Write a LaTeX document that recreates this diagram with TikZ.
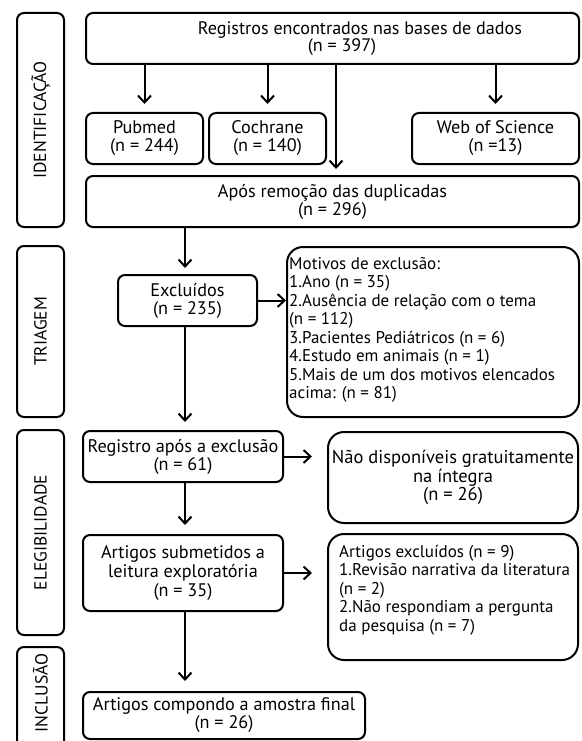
\documentclass[tikz,border=0pt]{standalone}
\usepackage{fontspec}
\setmainfont{PT Sans}
\usetikzlibrary{arrows.meta,calc}
\begin{document}
\begin{tikzpicture}[x=1pt,y=-1pt,
  box/.style={draw, line width=2pt, rounded corners=7pt, inner sep=0pt,
    align=center, font=\fontsize{18.2}{18}\selectfont},
  bigbox/.style={box, rounded corners=16pt},
  sidebox/.style={box, minimum width=47pt},
  sidelabel/.style={rotate=90, inner sep=0pt, font=\fontsize{17.5}{18}\selectfont},
  txt/.style={inner sep=0pt, align=left, font=\fontsize{17}{18.5}\selectfont},
  arr/.style={-{Straight Barb[length=7pt,width=13pt,line width=2pt]}, line width=2pt},
]
\useasboundingbox (0,0) rectangle (581,741);
\begin{scope}
\clip (0,0) rectangle (581,741);
% side boxes
\node[sidebox, minimum height=214pt] (ident) at (40.5,120) {};
\node[sidebox, minimum height=171pt] (triag) at (40.5,331.5) {};
\node[sidebox, minimum height=205pt] (eleg) at (40.5,532.5) {};
\node[sidebox, minimum height=133pt] (incl) at (40.5,713.5) {};
\end{scope}
\node[sidelabel] (identlab) at (ident.center) {IDENTIFICAÇÃO};
\node[sidelabel] (triaglab) at (triag.center) {TRIAGEM};
\node[sidelabel] (eleglab) at (eleg.center) {ELEGIBILIDADE};
\node[sidelabel] (incllab) at (40.5,693) {INCLUSÃO};

% main boxes
\node[box, minimum width=493pt, minimum height=51pt, font=\fontsize{18.1}{15}\selectfont] (reg) at (332.5,38.5)
  {\kern55pt Registros encontrados nas bases de dados\\\kern19pt (n = 397)};
\node[box, minimum width=117pt, minimum height=51pt] (pub) at (144.5,138.5) {Pubmed\\(n = 244)};
\node[box, minimum width=117pt, minimum height=51pt] (coch) at (267.5,138.5) {Cochrane\\(n = 140)};
\node[box, minimum width=167pt, minimum height=51pt] (wos) at (495.5,138.5) {Web of Science\\(n =13)};
\node[box, minimum width=493pt, minimum height=51pt] (apos) at (332.5,201.5) {Após remoção das duplicadas\\(n = 296)};
\node[box, minimum width=139pt, minimum height=51pt] (excl) at (187.5,300.5) {Excluídos\\(n = 235)};
\node[bigbox, minimum width=292pt, minimum height=170pt] (motivos) at (433,332) {};
\node[txt, anchor=west] (motivostxt) at ([xshift=3pt,yshift=2pt]motivos.west)
  {Motivos de exclusão:\\
   1.Ano (n = 35)\\
   2.Ausência de relação com o tema\\
   (n = 112)\\
   3.Pacientes Pediátricos (n = 6)\\
   4.Estudo em animais (n = 1)\\
   5.Mais de um dos motivos elencados\\
   acima: (n = 81)};
\node[box, minimum width=200pt, minimum height=51pt] (registro) at (183,456.5) {Registro após a exclusão\\(n = 61)};
\node[bigbox, minimum width=250pt, minimum height=91pt, font=\fontsize{18.5}{13.5}\selectfont] (nao) at (453,477.5)
  {Não disponíveis gratuitamente\\na íntegra\\(n = 26)};
\node[box, minimum width=200pt, minimum height=76pt, font=\fontsize{18.2}{19}\selectfont] (subm) at (183,573)
  {Artigos submetidos a\\leitura exploratória\\(n = 35)};
\node[bigbox, minimum width=250pt, minimum height=126pt] (artexc) at (453,597) {};
\node[txt, anchor=west] (artexctxt) at ([xshift=12pt,yshift=7pt]artexc.west)
  {Artigos excluídos (n = 9)\\
   1.Revisão narrativa da literatura\\
   (n = 2)\\
   2.Não respondiam a pergunta\\
   da pesquisa (n = 7)};
\node[box, minimum width=282pt, minimum height=47pt] (final) at (224,715.5) {Artigos compondo a amostra final\\(n = 26)};

\coordinate (col) at (185,0);
% connectors
\draw[arr, shorten >=8pt] (reg.south -| pub.north) -- (pub.north);
\draw[arr, shorten >=8pt] (reg.south -| coch.north) -- (coch.north);
\draw[arr, shorten >=8pt] (reg.south -| wos.north) -- (wos.north);
\draw[arr, shorten >=6pt] ([xshift=3.5pt]reg.south) -- ([xshift=3.5pt]apos.north);
\draw[arr, shorten >=6pt] (apos.south -| col) -- (excl.north -| col);
\draw[arr] (excl.east) -- (motivos.west |- excl.east);
\draw[arr, shorten >=8pt] (excl.south -| col) -- (registro.north -| col);
\draw[arr, shorten >=15pt] (registro.east) -- (nao.west |- registro.east);
\draw[arr, shorten >=9pt] (registro.south -| col) -- (subm.north -| col);
\draw[arr, shorten >=15pt] (subm.east) -- (artexc.west |- subm.east);
\draw[arr, shorten >=10pt] (subm.south -| col) -- (final.north -| col);
\end{tikzpicture}
\end{document}
